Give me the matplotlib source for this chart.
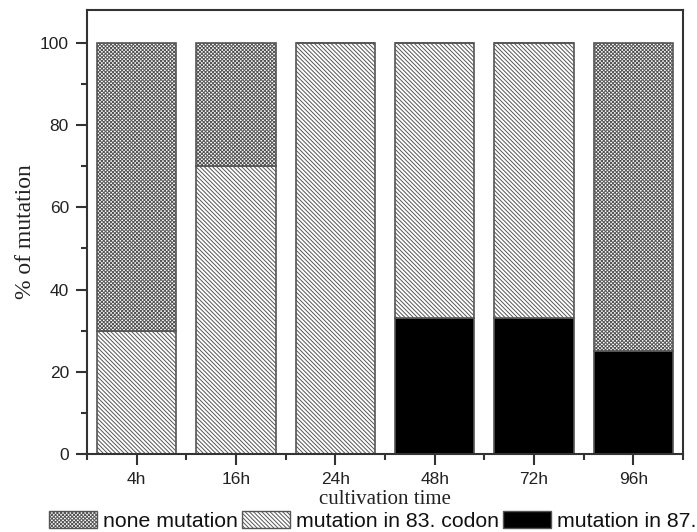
import matplotlib
matplotlib.use('Agg')
import matplotlib.pyplot as plt
from matplotlib.patches import Patch
from matplotlib.ticker import MultipleLocator
import numpy as np

# данные с графика (% мутаций)
categories = ['4h', '16h', '24h', '48h', '72h', '96h']
mutation_87 = [0, 0, 0, 33, 33, 25]
mutation_83 = [30, 70, 100, 67, 67, 0]
none_mutation = [70, 30, 0, 0, 0, 75]
# последняя подпись в оригинале обрезана краем картинки
legend_labels = ['none mutation', 'mutation in 83. codon', 'mutation in 87.']

plt.rcParams['hatch.color'] = '#b0b0b0'
plt.rcParams['hatch.linewidth'] = 0.7

edge = '#555555'
spine_color = '#333333'
diag = '\\' * 8
cross = 'x' * 9


def draw_chart():
    fig = plt.figure(figsize=(6.97, 5.32), dpi=100)
    ax = fig.add_axes([87 / 697, 1 - 454 / 532, (683 - 87) / 697, (454 - 10) / 532])

    x = np.arange(len(categories))
    b87 = np.array(mutation_87)
    b83 = np.array(mutation_83)
    bnone = np.array(none_mutation)

    ax.bar(x, b87, width=0.8, color='black', edgecolor=edge, linewidth=1.2)
    ax.bar(x, b83, width=0.8, bottom=b87, color='white', edgecolor=edge,
           linewidth=1.2, hatch=diag)
    ax.bar(x, bnone, width=0.8, bottom=b87 + b83, color='white', edgecolor=edge,
           linewidth=1.2, hatch=cross)

    ax.set_xlim(-0.5, len(categories) - 0.5)
    ax.set_ylim(0, 108)
    ax.set_xticks(x)
    ax.set_xticklabels(categories)
    ax.xaxis.set_minor_locator(MultipleLocator(1, offset=0.5))
    ax.yaxis.set_major_locator(MultipleLocator(20))
    ax.yaxis.set_minor_locator(MultipleLocator(10))

    for s in ax.spines.values():
        s.set_color(spine_color)
        s.set_linewidth(1.5)
    ax.tick_params(which='both', direction='out', color=spine_color, width=1.5,
                   labelsize=12.5, labelcolor='#222222')
    ax.tick_params(which='major', length=8, pad=5)
    ax.tick_params(which='minor', length=4)
    for lbl in ax.get_xticklabels() + ax.get_yticklabels():
        lbl.set_family('Liberation Sans')

    ax.set_xlabel('cultivation time', family='Liberation Serif', fontsize=15,
                  color='#222222', labelpad=2)
    ax.set_ylabel('% of mutation', family='Liberation Serif', fontsize=17,
                  color='#222222', labelpad=3)

    handles = [
        Patch(facecolor='white', edgecolor=edge, hatch=cross, linewidth=1.0),
        Patch(facecolor='white', edgecolor=edge, hatch=diag, linewidth=1.0),
        Patch(facecolor='black', edgecolor=edge, linewidth=1.0),
    ]
    fig.legend(handles, legend_labels, loc='center left',
               bbox_to_anchor=(49 / 697, 1 - 521 / 532), ncol=3, frameon=False,
               borderpad=0, borderaxespad=0, handlelength=2.25, handleheight=0.85,
               handletextpad=0.28, columnspacing=0.2,
               prop={'family': 'Liberation Sans', 'size': 15.3},
               labelcolor='#111111')

    fig.savefig('out.png', dpi=100)


draw_chart()
